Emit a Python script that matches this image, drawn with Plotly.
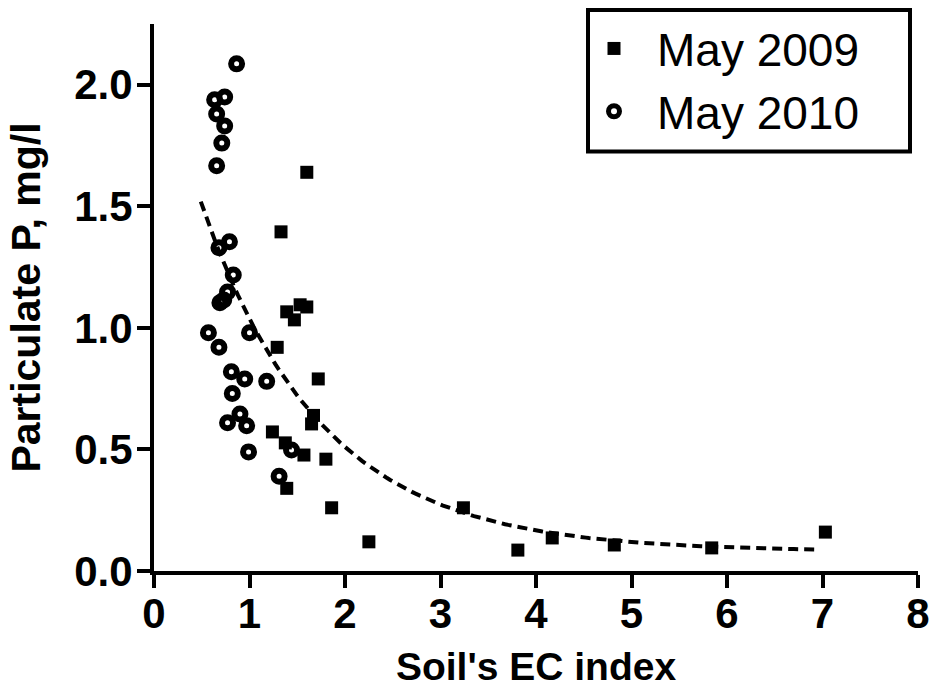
import numpy as np
import plotly.graph_objects as go

# May 2009 samples (filled squares)
ec_2009 = [1.60, 1.33, 1.39, 1.47, 1.53, 1.60, 1.29, 1.72, 1.67, 1.65, 1.24, 1.375,
           1.57, 1.80, 1.39, 1.86, 2.25, 3.24, 3.81, 4.17, 4.82, 5.84, 7.03]
pp_2009 = [1.64, 1.395, 1.066, 1.033, 1.095, 1.086, 0.92, 0.79, 0.64, 0.605, 0.572, 0.527,
           0.477, 0.46, 0.34, 0.26, 0.12, 0.26, 0.086, 0.136, 0.107, 0.095, 0.16]

# May 2010 samples (open circles)
ec_2010 = [0.865, 0.635, 0.74, 0.656, 0.74, 0.71, 0.656, 0.79, 0.68, 0.83, 0.77, 0.73,
           0.69, 0.57, 1.00, 0.68, 0.81, 0.95, 1.18, 0.82, 0.90, 0.77, 0.97, 0.99, 1.44, 1.31]
pp_2010 = [2.086, 1.938, 1.95, 1.88, 1.83, 1.76, 1.667, 1.354, 1.33, 1.218, 1.148, 1.115,
           1.103, 0.98, 0.98, 0.92, 0.82, 0.79, 0.78, 0.73, 0.646, 0.61, 0.597, 0.49, 0.498, 0.39]

# One-phase exponential decay fit: y = plateau + span * exp(-k * x)
fit_plateau = 0.08
fit_span = 2.13
fit_rate = 0.80
fit_x_range = (0.49, 6.96)

x_ticks = [0, 1, 2, 3, 4, 5, 6, 7, 8]
y_ticks = [0.0, 0.5, 1.0, 1.5, 2.0]
y_tick_text = ["0.0", "0.5", "1.0", "1.5", "2.0"]

fit_x = np.linspace(fit_x_range[0], fit_x_range[1], 200)
fit_y = fit_plateau + fit_span * np.exp(-fit_rate * fit_x)

FONT = "Liberation Sans, Arial, sans-serif"

# plot area in pixels
L, R, T, B = 154, 918, 22, 571
W, H = R - L, B - T

fig = go.Figure()

fig.add_trace(go.Scatter(
    x=fit_x, y=fit_y, mode="lines", showlegend=False, hoverinfo="skip",
    line=dict(color="black", width=4, dash="10px,6px"),
))

fig.add_trace(go.Scatter(
    x=ec_2009, y=pp_2009, mode="markers", name="May 2009",
    marker=dict(symbol="square", size=13, color="black", line=dict(width=0)),
))

fig.add_trace(go.Scatter(
    x=ec_2010, y=pp_2010, mode="markers", name="May 2010",
    marker=dict(symbol="circle-open", size=11, color="black", line=dict(width=6, color="black")),
))

axis_common = dict(
    showgrid=False, zeroline=False, showline=True, linecolor="black", linewidth=4,
    ticks="outside", ticklen=13, tickwidth=4, tickcolor="black", automargin=False,
    tickfont=dict(family=FONT, size=42, color="black", weight="bold"),
)

fig.update_xaxes(
    range=[0, 8], tickvals=x_ticks, ticklabelstandoff=-10,
    title=dict(text="Soil's EC index", font=dict(family=FONT, size=39, color="black", weight="bold"),
               standoff=24),
    **axis_common,
)
fig.update_yaxes(
    range=[0, 2.25], tickvals=y_ticks, ticktext=y_tick_text, ticklabelstandoff=-4,
    title=dict(text="Particulate P, mg/l", font=dict(family=FONT, size=41, color="black", weight="bold"),
               standoff=22),
    **axis_common,
)

# Legend frame
fig.add_shape(type="rect", xref="paper", yref="paper",
              x0=(588 - L) / W, x1=(910 - L) / W,
              y0=(B - 150) / H, y1=(B - 8) / H,
              line=dict(color="black", width=4), fillcolor="white", layer="below")

fig.update_layout(
    width=932, height=688,
    margin=dict(l=L, r=932 - R, t=T, b=688 - B),
    paper_bgcolor="white", plot_bgcolor="white",
    font=dict(family=FONT, color="black"),
    legend=dict(
        x=(571 - L) / W, y=(B - 10) / H, xanchor="left", yanchor="top",
        font=dict(family=FONT, size=46, color="black"),
        bgcolor="rgba(0,0,0,0)", borderwidth=0, itemsizing="trace", itemwidth=76,
    ),
)

fig.write_html("out.html")
